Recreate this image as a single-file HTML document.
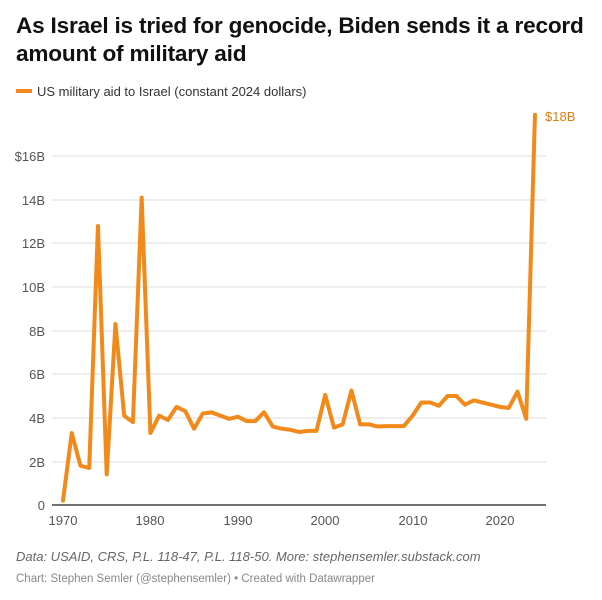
<!DOCTYPE html>
<html><head><meta charset="utf-8"><style>
body{margin:0;background:#fff;font-family:"Liberation Sans",Arial,sans-serif;}
.wrap{position:relative;width:602px;height:600px;overflow:hidden}
h1{position:absolute;left:16px;top:12px;margin:0;font-size:22.6px;line-height:28px;font-weight:bold;color:#111;width:586px;letter-spacing:-0.2px}
</style></head><body><div class="wrap">
<h1>As Israel is tried for genocide, Biden sends it a record amount of military aid</h1>
<svg width="602" height="600" style="position:absolute;left:0;top:0">
<line x1="16" y1="91" x2="32" y2="91" stroke="#f28a1b" stroke-width="4"/>
<text x="37" y="96" font-size="13" fill="#333">US military aid to Israel (constant 2024 dollars)</text>
<g stroke="#ddd" stroke-width="1">
<line x1="52" y1="156" x2="546" y2="156"/><line x1="52" y1="200" x2="546" y2="200"/>
<line x1="52" y1="243" x2="546" y2="243"/><line x1="52" y1="287" x2="546" y2="287"/>
<line x1="52" y1="331" x2="546" y2="331"/><line x1="52" y1="374" x2="546" y2="374"/>
<line x1="52" y1="418" x2="546" y2="418"/><line x1="52" y1="462" x2="546" y2="462"/>
</g>
<g font-size="13" fill="#555" text-anchor="end">
<text x="45" y="161">$16B</text><text x="45" y="205">14B</text><text x="45" y="248">12B</text>
<text x="45" y="292">10B</text><text x="45" y="336">8B</text><text x="45" y="379">6B</text>
<text x="45" y="423">4B</text><text x="45" y="467">2B</text><text x="45" y="510">0</text>
</g>
<line x1="52" y1="505" x2="546" y2="505" stroke="#444" stroke-width="1.5"/>
<g font-size="13" fill="#555" text-anchor="middle">
<text x="63" y="525">1970</text><text x="150" y="525">1980</text><text x="238" y="525">1990</text>
<text x="325" y="525">2000</text><text x="413" y="525">2010</text><text x="500" y="525">2020</text>
</g>
<g transform="translate(63,505) scale(8.74,-21.8)">
<polyline fill="none" stroke="#f28a1b" stroke-width="4" vector-effect="non-scaling-stroke" stroke-linejoin="round" stroke-linecap="round" points="0,0.2 1,3.3 2,1.8 3,1.7 4,12.8 5,1.4 6,8.3 7,4.1 8,3.8 9,14.1 10,3.3 11,4.1 12,3.9 13,4.5 14,4.3 15,3.5 16,4.2 17,4.25 18,4.1 19,3.95 20,4.05 21,3.85 22,3.85 23,4.25 24,3.6 25,3.5 26,3.45 27,3.35 28,3.4 29,3.4 30,5.05 31,3.55 32,3.7 33,5.25 34,3.7 35,3.7 36,3.6 37,3.62 38,3.62 39,3.62 40,4.1 41,4.7 42,4.7 43,4.55 44,5.0 45,5.0 46,4.6 47,4.8 48,4.7 49,4.6 50,4.5 51,4.45 52,5.2 53,3.95 54,17.9"/>
</g>
<text x="545" y="121" font-size="13" fill="#e07d14">$18B</text>
<text x="16" y="561" font-size="13" font-style="italic" fill="#666">Data: USAID, CRS, P.L. 118-47, P.L. 118-50. More: stephensemler.substack.com</text>
<text x="16" y="582" font-size="11.5" fill="#888">Chart: Stephen Semler (@stephensemler) • Created with Datawrapper</text>
</svg>
</div></body></html>
